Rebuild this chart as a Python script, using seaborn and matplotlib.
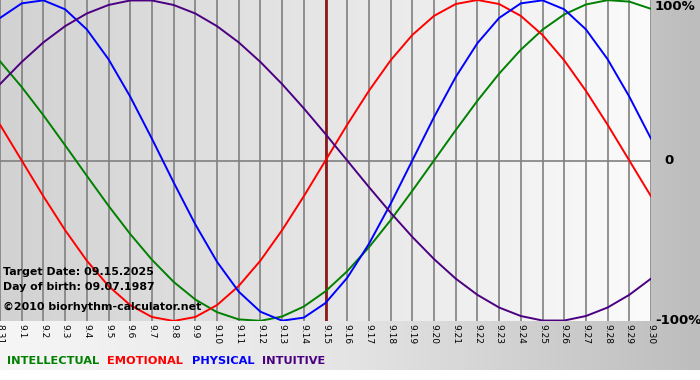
import numpy as np
import pandas as pd
import matplotlib.pyplot as plt
import seaborn as sns
from matplotlib.colors import LinearSegmentedColormap

# days shown on the chart (8.31 .. 9.30)
days = ["8.31"] + ["9.%d" % i for i in range(1, 31)]

# cycle values, one per day
intellectual = [0.618, 0.458, 0.282, 0.095, -0.095, -0.282, -0.458, -0.618, -0.756, -0.866,
                -0.945, -0.990, -0.999, -0.972, -0.910, -0.815, -0.690, -0.541, -0.372, -0.189,
                0.0, 0.189, 0.372, 0.541, 0.690, 0.815, 0.910, 0.972, 0.999, 0.990, 0.945]
emotional = [0.223, 0.0, -0.223, -0.434, -0.624, -0.782, -0.901, -0.975, -1.0, -0.975,
             -0.901, -0.782, -0.624, -0.434, -0.223, 0.0, 0.223, 0.434, 0.624, 0.782,
             0.901, 0.975, 1.0, 0.975, 0.901, 0.782, 0.624, 0.434, 0.223, 0.0, -0.223]
physical = [0.888, 0.979, 0.998, 0.942, 0.817, 0.631, 0.398, 0.136, -0.136, -0.398,
            -0.631, -0.817, -0.942, -0.998, -0.979, -0.888, -0.731, -0.520, -0.270, 0.0,
            0.270, 0.520, 0.731, 0.888, 0.979, 0.998, 0.942, 0.817, 0.631, 0.398, 0.136]
intuitive = [0.476, 0.614, 0.736, 0.837, 0.916, 0.969, 0.997, 0.997, 0.969, 0.916,
             0.837, 0.736, 0.614, 0.476, 0.325, 0.165, 0.0, -0.165, -0.325, -0.476,
             -0.614, -0.736, -0.837, -0.916, -0.969, -0.997, -0.997, -0.969, -0.916, -0.837, -0.736]

cycles = ["INTELLECTUAL", "EMOTIONAL", "PHYSICAL", "INTUITIVE"]
colors = {"INTELLECTUAL": "#008000", "EMOTIONAL": "#ff0000",
          "PHYSICAL": "#0000ff", "INTUITIVE": "#4b0082"}
target_day = "9.15"

df = pd.DataFrame({"day": list(range(len(days))) * 4,
                   "value": intellectual + emotional + physical + intuitive,
                   "cycle": np.repeat(cycles, len(days))})

fig = plt.figure(figsize=(7, 3.8), dpi=100, facecolor="white")

# grey gradient panel behind everything
bg = fig.add_axes([0, 10 / 380, 1, 370 / 380])
bg_cmap = LinearSegmentedColormap.from_list("bg", ["#f6f6f6", "#e4e4e4", "#bdbdbd"])
bg.imshow(np.linspace(0, 1, 256).reshape(1, -1), aspect="auto", cmap=bg_cmap,
          extent=[0, 1, 0, 1])
bg.axis("off")

ax = fig.add_axes([0, 59 / 380, 651 / 700, 321 / 380])
ax.patch.set_alpha(0)
pa_cmap = LinearSegmentedColormap.from_list("pa", ["#d2d2d2", "#e6e6e6", "#fbfbfb"])
ax.imshow(np.linspace(0, 1, 256).reshape(1, -1), aspect="auto", cmap=pa_cmap,
          extent=[0, len(days) - 1, -1, 1], zorder=0)

ax.set_axisbelow(True)
ax.grid(axis="x", color="#808080", lw=1.2)
ax.axhline(0, color="#808080", lw=1.2, zorder=0.6)
ax.axvline(days.index(target_day), color="#8b1a1a", lw=2, zorder=1.5)

sns.lineplot(data=df, x="day", y="value", hue="cycle", palette=colors,
             legend=False, ax=ax, linewidth=1.4)

ax.set_xlim(0, len(days) - 1)
ax.set_ylim(-1, 1)
ax.set_xticks(range(len(days)))
ax.set_xticklabels(days, rotation=-90, fontsize=6.5)
ax.tick_params(axis="x", length=0, pad=2)
ax.set_yticks([])
ax.set_xlabel("")
ax.set_ylabel("")
for s in ax.spines.values():
    s.set_visible(False)

# right side scale labels
xr = 1 + 4 / 651
ax.text(xr, 1, "100%", transform=ax.transAxes, ha="left", va="top",
        fontsize=9.5, fontweight="bold")
ax.text(xr + 9 / 651, 0.5, "0", transform=ax.transAxes, ha="left", va="center",
        fontsize=9.5, fontweight="bold")
ax.text(xr, 0, "-100%", transform=ax.transAxes, ha="left", va="center",
        fontsize=9.5, fontweight="bold")

# info text
fig.text(3 / 700, 1 - 272 / 380, "Target Date: 09.15.2025", fontsize=7.9,
         fontweight="bold", va="center")
fig.text(3 / 700, 1 - 287 / 380, "Day of birth: 09.07.1987", fontsize=7.9,
         fontweight="bold", va="center")
fig.text(3 / 700, 1 - 307 / 380, "\u00a92010 biorhythm-calculator.net", fontsize=7.9,
         fontweight="bold", va="center")

# legend words
for name, xp in zip(cycles, [7, 107, 192, 262]):
    fig.text(xp / 700, 1 - 361 / 380, name, color=colors[name], fontsize=8.2,
             fontweight="bold", va="center")

fig.savefig("out.png", dpi=100)
